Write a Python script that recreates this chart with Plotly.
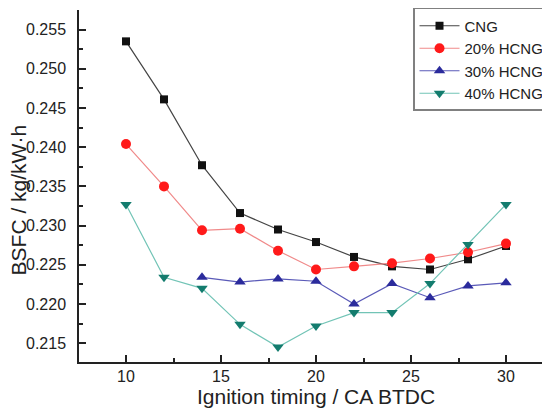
import plotly.graph_objects as go

timing = [10, 12, 14, 16, 18, 20, 22, 24, 26, 28, 30]
timing_30 = [14, 16, 18, 20, 22, 24, 26, 28, 30]
cng = [0.2535, 0.2461, 0.2377, 0.2316, 0.2295, 0.2279, 0.2260, 0.2248, 0.2244, 0.2257, 0.2274]
hcng20 = [0.2404, 0.2350, 0.2294, 0.2296, 0.2268, 0.2244, 0.2248, 0.2252, 0.2258, 0.2266, 0.2277]
hcng30 = [0.2234, 0.2228, 0.2232, 0.2229, 0.2200, 0.2226, 0.2208, 0.2223, 0.2227]
hcng40 = [0.2327, 0.2234, 0.2220, 0.2174, 0.2145, 0.2172, 0.2189, 0.2189, 0.2226, 0.2276, 0.2327]
y_ticks = [0.215, 0.220, 0.225, 0.230, 0.235, 0.240, 0.245, 0.250, 0.255]
x_ticks = [10, 15, 20, 25, 30]

series = [
    ("CNG", timing, cng, "square", 8, "#111111", "#444444"),
    ("20% HCNG", timing, hcng20, "circle", 10, "#ff1a1a", "#f08a8a"),
    ("30% HCNG", timing_30, hcng30, "triangle-up", 10, "#2b2b9c", "#5a5ab8"),
    ("40% HCNG", timing, hcng40, "triangle-down", 10, "#137c6e", "#72c4b6"),
]

fig = go.Figure()
for name, xs, ys, sym, size, mc, lc in series:
    fig.add_trace(go.Scatter(
        x=xs, y=ys, name=name, mode="lines+markers",
        line=dict(color=lc, width=1.2),
        marker=dict(symbol=sym, size=size, color=mc),
    ))

font = "Liberation Sans, Arial, sans-serif"
fig.update_layout(
    width=534, height=402,
    margin=dict(l=71, r=0, t=2, b=48, autoexpand=False),
    paper_bgcolor="white", plot_bgcolor="white",
    font=dict(family=font, color="#222222"),
    showlegend=True,
    legend=dict(
        x=0.7214, y=1.0057, xanchor="left", yanchor="top",
        bordercolor="#808080", borderwidth=1.5, bgcolor="white",
        font=dict(size=15, family=font, color="#222222"),
        itemwidth=40, tracegroupgap=0,
    ),
    xaxis=dict(
        range=[7.526, 31.895], tickvals=x_ticks,
        showline=True, linecolor="#222222", linewidth=1.5,
        ticks="inside", ticklen=7, tickwidth=1.5, tickcolor="#222222",
        minor=dict(ticks="inside", ticklen=4, dtick=2.5, tick0=0, tickcolor="#222222", tickwidth=1.5),
        showgrid=False, zeroline=False, mirror=False,
        tickfont=dict(size=16), ticklabelstandoff=-1,
    ),
    yaxis=dict(
        range=[0.2126, 0.2575], tickvals=y_ticks, tickformat=".3f",
        showline=True, linecolor="#222222", linewidth=1.5,
        ticks="inside", ticklen=7, tickwidth=1.5, tickcolor="#222222",
        minor=dict(ticks="inside", ticklen=4, dtick=0.0025, tick0=0.2125, tickcolor="#222222", tickwidth=1.5),
        showgrid=False, zeroline=False, mirror=False,
        tickfont=dict(size=16), ticklabelstandoff=8,
    ),
    annotations=[
        dict(
            text="BSFC / kg/kW·h", textangle=-90,
            xref="paper", yref="paper", x=-0.131, y=0.46,
            xanchor="center", yanchor="middle", showarrow=False,
            font=dict(size=21, family=font, color="#222222"),
        ),
        dict(
            text="Ignition timing / CA BTDC",
            xref="paper", yref="paper", x=0.512, y=-0.0994,
            xanchor="center", yanchor="middle", showarrow=False,
            font=dict(size=21, family=font, color="#222222"),
        ),
    ],
)

fig.write_html("out.html")
